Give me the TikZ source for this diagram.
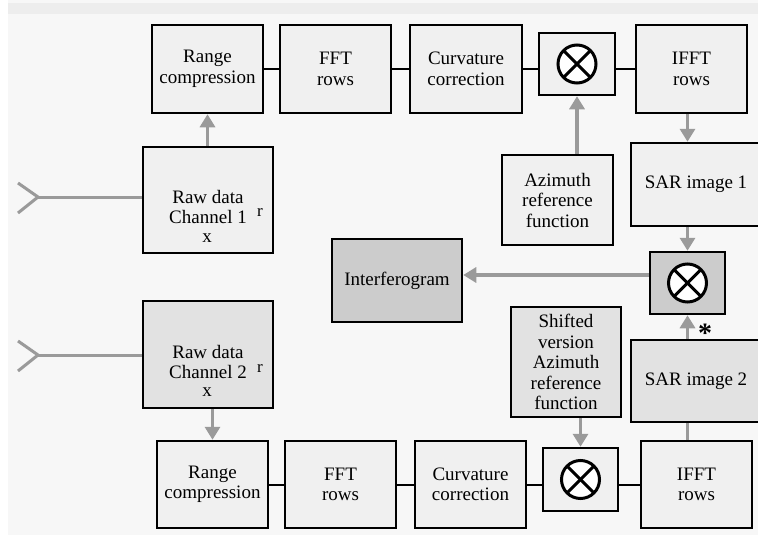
\documentclass[tikz,border=0pt]{standalone}
\usepackage{fontspec}
\setmainfont{Liberation Serif}
\usepackage{tikz}
\usetikzlibrary{arrows.meta}
\usetikzlibrary{positioning,calc}

\definecolor{boxlight}{HTML}{F0F0F0}
\definecolor{boxmid}{HTML}{E2E2E2}
\definecolor{boxdark}{HTML}{CCCCCC}
\definecolor{flowgray}{HTML}{9A9A9A}
\definecolor{pagegray}{HTML}{F7F7F7}

\begin{document}
\begin{tikzpicture}[x=1pt, y=-1pt,
		block/.style={draw, line width=2.5pt, fill=boxlight, align=center, inner sep=0pt, font=\fontsize{19}{20.5}\selectfont},
		link/.style={draw, line width=2pt},
		flow/.style={draw=flowgray, line width=3.5pt, -{Triangle[length=13pt, width=15pt]}},
		feed/.style={draw=flowgray, line width=3pt},
		txt/.style={inner sep=0pt, align=center, font=\fontsize{19}{20.5}\selectfont}]
			\clip (0,0) rectangle (758,535);
			\fill[white] (0,0) rectangle (758,535);
			\fill[pagegray] (8,0) rectangle (758,535);
			\fill[black!7] (8,3) rectangle (758,14);
			% channel 1
			\node[block, minimum width=111, minimum height=88] (rc1) at (207.5,69) {Range\\ compression};
			\node[block, minimum width=111, minimum height=88] (fft1) at (335.5,69) {FFT\\ rows};
			\node[block, minimum width=112, minimum height=88] (cc1) at (466,69) {Curvature\\ correction};
			\node[block, minimum width=76, minimum height=62] (mul1) at (577,64) {};
			\node[block, minimum width=111, minimum height=88] (ifft1) at (691.5,69) {IFFT\\ rows};
			\node[block, minimum width=130, minimum height=106] (raw1) at (208,200) {};
			\node[txt] (raw1t) at (208,207) {Raw data\\ Channel 1};
			\node[txt] (raw1x) at (207,238) {x};
			\node[txt, font=\fontsize{17}{17}\selectfont] (raw1r) at (260,212) {r};
			\node[block, minimum width=111, minimum height=90] (azi) at (557.5,200) {Azimuth\\ reference\\ function};
			\node[block, minimum width=130, minimum height=83] (sar1) at (696,184.5) {SAR image 1};
			% interferogram
			\node[block, fill=boxdark, minimum width=130, minimum height=83] (intf) at (397,280.5) {Interferogram};
			\node[block, fill=boxdark, minimum width=75, minimum height=62] (mul2) at (687.5,283) {};
			\node[inner sep=0pt, font=\fontsize{28}{28}\selectfont\bfseries] (conj) at (705,333) {*};
			% channel 2
			\node[block, fill=boxmid, minimum width=130, minimum height=107] (raw2) at (208,354.5) {};
			\node[txt] (raw2t) at (208,362) {Raw data\\ Channel 2};
			\node[txt] (raw2x) at (207,392) {x};
			\node[txt, font=\fontsize{17}{17}\selectfont] (raw2r) at (260,368) {r};
			\node[block, fill=boxmid, minimum width=110, minimum height=110] (shift) at (566,362) {Shifted\\ version\\ Azimuth\\ reference\\ function};
			\node[block, fill=boxmid, minimum width=130, minimum height=82] (sar2) at (696,381) {SAR image 2};
			\node[block, minimum width=111, minimum height=87] (rc2) at (212.5,484.5) {Range\\ compression};
			\node[block, minimum width=111, minimum height=87] (fft2) at (340.5,484.5) {FFT\\ rows};
			\node[block, minimum width=111, minimum height=87] (cc2) at (470.5,484.5) {Curvature\\ correction};
			\node[block, minimum width=75, minimum height=63] (mul3) at (580.5,479.5) {};
			\node[block, minimum width=111, minimum height=87] (ifft2) at (696.5,484.5) {IFFT\\ rows};
			% multipliers
			\foreach \m in {mul1,mul2,mul3} {
				\draw[line width=3pt, fill=white] (\m) circle (19);
				\draw[line width=3pt] ($(\m)+(45:19)$) -- ($(\m)+(225:19)$);
				\draw[line width=3pt] ($(\m)+(135:19)$) -- ($(\m)+(315:19)$);
			}
			% inputs
			\coordinate (in1) at (38,197);
			\coordinate (in2) at (38,355);
			\foreach \i in {in1,in2} {
				\draw[feed] ($(\i)+(-20,-14)$) -- (\i) -- ($(\i)+(-20,16)$);
			}
			\draw[feed] (in1) -- (in1 -| raw1.west);
			\draw[feed] (in2) -- (in2 -| raw2.west);
			% black links
			\draw[link] (rc1) -- (fft1);
			\draw[link] (fft1) -- (cc1);
			\draw[link] (cc1.east) -- (cc1.east -| mul1.west);
			\draw[link] (mul1.east |- ifft1) -- (ifft1.west);
			\draw[link] (rc2) -- (fft2);
			\draw[link] (fft2) -- (cc2);
			\draw[link] (cc2.east) -- (cc2.east -| mul3.west);
			\draw[link] (mul3.east |- ifft2) -- (ifft2.west);
			% gray arrows
			\coordinate (m2w) at ($(mul2.west)+(0,-8)$);
			\draw[flow] (raw1.north -| rc1) -- (rc1.south);
			\draw[flow] (azi.north -| mul1) -- (mul1.south);
			\draw[flow] (ifft1.south -| mul2) -- (sar1.north -| mul2);
			\draw[flow] (sar1.south -| mul2) -- (mul2.north);
			\draw[flow] (sar2.north -| mul2) -- (mul2.south);
			\draw[flow] (m2w) -- (m2w -| intf.east);
			\draw[flow] (raw2.south -| rc2) -- (rc2.north);
			\draw[flow] (shift.south -| mul3) -- (mul3.north);
			\draw[feed, line width=3.5pt] (ifft2.north -| mul2) -- (sar2.south -| mul2);
		\end{tikzpicture}
\end{document}
